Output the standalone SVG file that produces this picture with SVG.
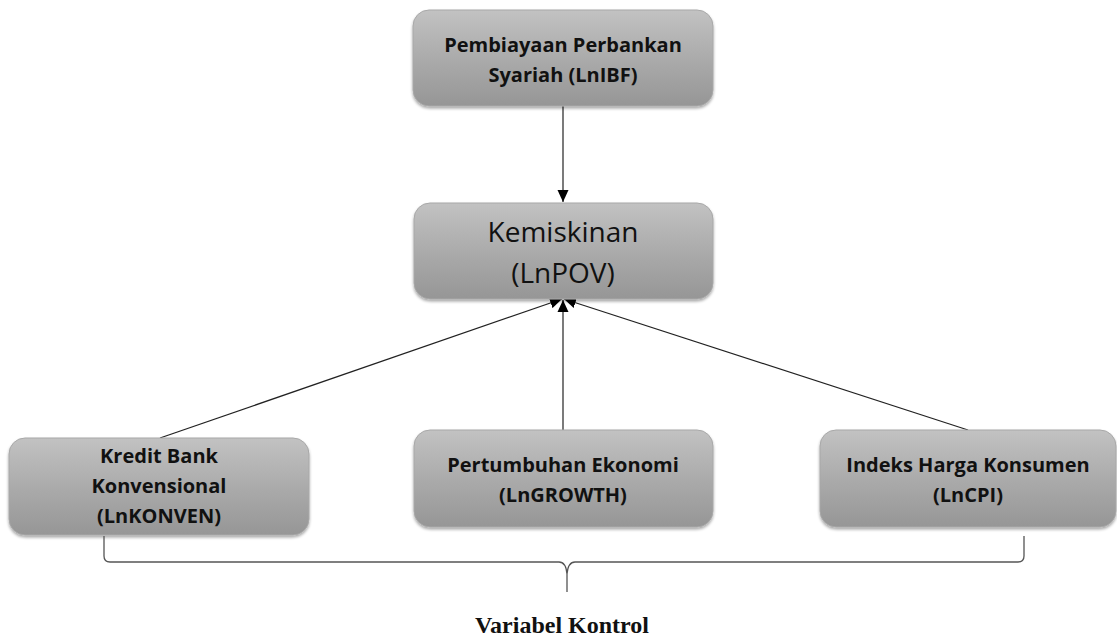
<svg xmlns="http://www.w3.org/2000/svg" width="1117" height="639" viewBox="0 0 1117 639">
<defs>
<linearGradient id="g" x1="0" y1="0" x2="0" y2="1">
<stop offset="0" stop-color="#c2c2c2"/>
<stop offset="0.5" stop-color="#ababab"/>
<stop offset="1" stop-color="#969696"/>
</linearGradient>
<filter id="sh" x="-5%" y="-5%" width="110%" height="120%">
<feGaussianBlur in="SourceAlpha" stdDeviation="1.5"/>
<feOffset dx="0" dy="1.5" result="b"/>
<feComponentTransfer><feFuncA type="linear" slope="0.35"/></feComponentTransfer>
<feMerge><feMergeNode/><feMergeNode in="SourceGraphic"/></feMerge>
</filter>
<marker id="ah" viewBox="0 0 12 12" refX="12" refY="6" markerWidth="12" markerHeight="12" markerUnits="userSpaceOnUse" orient="auto">
<path d="M0,0.5 L12,6 L0,11.5 Z" fill="#000"/>
</marker>
</defs>
<style>
.box{fill:url(#g);stroke:#a8a8a8;stroke-width:1;filter:url(#sh)}
.b{font-family:"Open Sans","Liberation Sans",sans-serif;font-weight:bold;font-size:20px;fill:#111;text-anchor:middle}
.r{font-family:"Open Sans","Liberation Sans",sans-serif;font-size:28px;fill:#111;text-anchor:middle}
.c{stroke:#222;stroke-width:1.2;fill:none;marker-end:url(#ah)}
.brace{stroke:#555;stroke-width:1.3;fill:none}
.lbl{font-family:"Liberation Serif","Times New Roman",serif;font-weight:bold;font-size:24px;fill:#111;text-anchor:middle}
</style>
<rect width="1117" height="639" fill="#fff"/>
<g id="connectors">
<line class="c" x1="563" y1="106" x2="563" y2="202"/>
<line class="c" x1="160" y1="438" x2="562" y2="299"/>
<line class="c" x1="563" y1="430" x2="563" y2="300"/>
<line class="c" x1="968" y1="430" x2="564" y2="299"/>
</g>
<g id="node-ibf">
<rect class="box" x="413" y="10" width="300" height="96" rx="16"/>
<text class="b" x="563" y="52">Pembiayaan Perbankan</text>
<text class="b" x="563" y="82">Syariah (LnIBF)</text>
</g>
<g id="node-pov">
<rect class="box" x="414" y="203" width="299" height="96" rx="16"/>
<text class="r" x="563" y="242">Kemiskinan</text>
<text class="r" x="563" y="283">(LnPOV)</text>
</g>
<g id="node-konven">
<rect class="box" x="9" y="438" width="300" height="97" rx="16"/>
<text class="b" x="159" y="463">Kredit Bank</text>
<text class="b" x="159" y="493">Konvensional</text>
<text class="b" x="159" y="523">(LnKONVEN)</text>
</g>
<g id="node-growth">
<rect class="box" x="414" y="430" width="299" height="97" rx="16"/>
<text class="b" x="563" y="472">Pertumbuhan Ekonomi</text>
<text class="b" x="563" y="502">(LnGROWTH)</text>
</g>
<g id="node-cpi">
<rect class="box" x="820" y="430" width="296" height="97" rx="16"/>
<text class="b" x="968" y="472">Indeks Harga Konsumen</text>
<text class="b" x="968" y="502">(LnCPI)</text>
</g>
<g id="brace">
<path class="brace" d="M104,536 L104,556 Q104,562 110,562 L559,562 Q566,562 567,574 L567,592 M567,574 Q568,562 575,562 L1018,562 Q1024,562 1024,556 L1024,536"/>
</g>
<text class="lbl" x="562" y="633">Variabel Kontrol</text>
</svg>
